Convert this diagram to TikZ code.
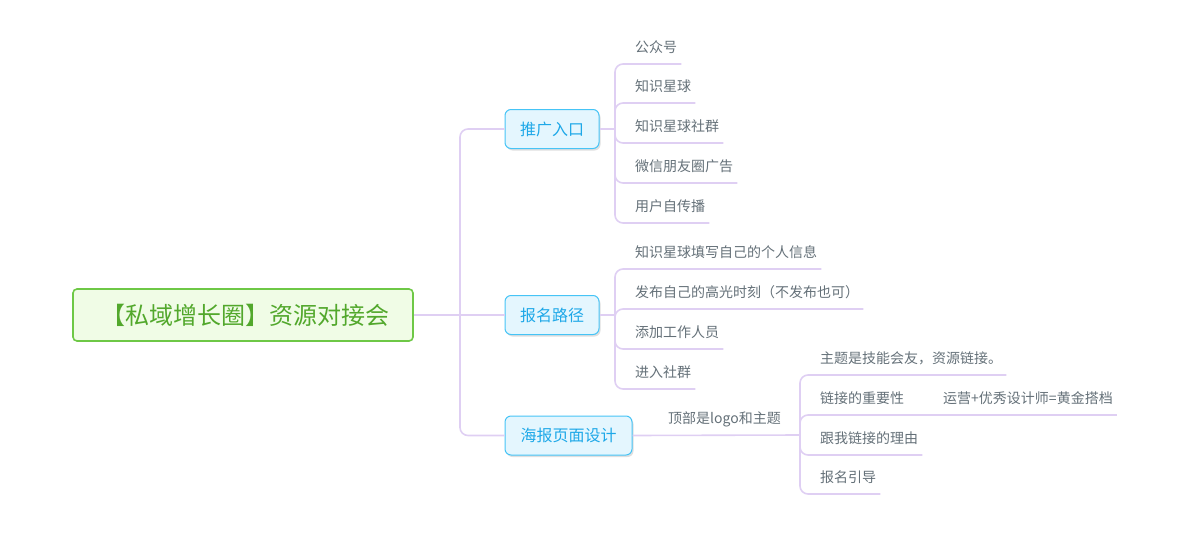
\documentclass[tikz,border=0pt]{standalone}
\usepackage{fontspec}
\setmainfont{Noto Sans CJK SC}
\usetikzlibrary{shadows}
\definecolor{lnc}{RGB}{223,207,243}
\definecolor{rootfill}{RGB}{240,252,230}
\definecolor{rootdraw}{RGB}{110,200,70}
\definecolor{roottext}{RGB}{82,168,44}
\definecolor{brfill}{RGB}{228,246,254}
\definecolor{brdraw}{RGB}{70,196,246}
\definecolor{brtext}{RGB}{30,168,232}
\definecolor{lftext}{RGB}{100,112,120}

\begin{document}
\begin{tikzpicture}[x=1pt, y=-1pt,
    root/.style={rectangle, draw=rootdraw, line width=1.6pt, rounded corners=4pt, fill=rootfill, text=roottext, font=\fontsize{24}{24}\selectfont, minimum width=340pt, minimum height=52pt},
    br/.style={rectangle, draw=brdraw, line width=1pt, rounded corners=6pt, fill=brfill, text=brtext, font=\fontsize{16}{16}\selectfont, minimum height=39pt, inner xsep=0pt, drop shadow={opacity=0.25, shadow xshift=1.5pt, shadow yshift=-2pt}},
    lf/.style={anchor=south west, inner xsep=4pt, inner ysep=11pt, text depth=0pt, text=lftext, font=\fontsize{14}{14}\selectfont},
    ln/.style={draw=lnc, line width=1.6pt, rounded corners=8pt},
]
\useasboundingbox (0,0) rectangle (1180,546);

\node[root] (r) at (243,315) {\hspace*{4pt}【私域增长圈】资源对接会};
\node[br, minimum width=94pt] (p1) at (552,129) {推广入口};
\node[br, minimum width=94pt] (p2) at (552,315) {报名路径};
\node[br, minimum width=127pt] (p3) at (568.5,435.5) {海报页面设计};

\coordinate (t) at (460,315);
\coordinate (b1) at (615,129);
\coordinate (b2) at (615,315);
\coordinate (b3) at (800,435);

\node[lf] (l11) at (631,64) {公众号};
\node[lf] (l12) at (631,103) {知识星球};
\node[lf] (l13) at (631,143) {知识星球社群};
\node[lf] (l14) at (631,183) {微信朋友圈广告};
\node[lf] (l15) at (631,223) {用户自传播};

\node[lf] (l21) at (631,269) {知识星球填写自己的个人信息};
\node[lf] (l22) at (631,309) {发布自己的高光时刻（不发布也可）};
\node[lf] (l23) at (631,349) {添加工作人员};
\node[lf] (l24) at (631,389) {进入社群};

\node[lf] (h3) at (664,435) {顶部是logo和主题};
\node[lf] (l31) at (816,375) {主题是技能会友，资源链接。};
\node[lf] (l32) at (816,415) {链接的重要性};
\node[lf] (l32a) at (939,415) {运营+优秀设计师=黄金搭档};
\node[lf] (l33) at (816,455) {跟我链接的理由};
\node[lf] (l34) at (816,494) {报名引导};

\draw[ln] (r.east) -- (t);
\draw[ln] (t) |- (p1.west);
\draw[ln] (t) -- (p2.west);
\draw[ln] (t) |- (p3.west);

\draw[ln] (p1.east) -- (b1);
\draw[ln] (b1) |- (l11.south east);
\draw[ln] (b1) |- (l12.south east);
\draw[ln] (b1) |- (l13.south east);
\draw[ln] (b1) |- (l14.south east);
\draw[ln] (b1) |- (l15.south east);

\draw[ln] (p2.east) -- (b2);
\draw[ln] (b2) |- (l21.south east);
\draw[ln] (b2) |- (l22.south east);
\draw[ln] (b2) |- (l23.south east);
\draw[ln] (b2) |- (l24.south east);

\draw[ln] (p3.east) -- (b3);
\draw[ln] (b3) |- (l31.south east);
\draw[ln] (b3) |- (l32.south east) -- (l32a.south east);
\draw[ln] (b3) |- (l33.south east);
\draw[ln] (b3) |- (l34.south east);
\end{tikzpicture}
\end{document}
